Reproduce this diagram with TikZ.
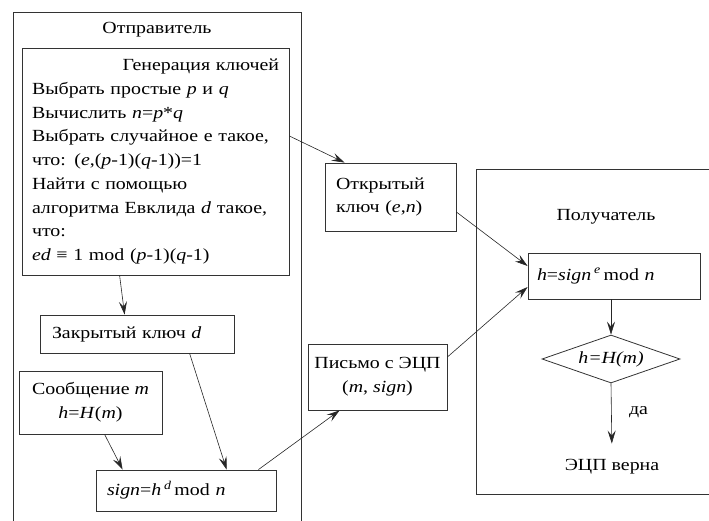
\documentclass[tikz,border=0pt]{standalone}
\usepackage{fontspec}
\setmainfont{Liberation Serif}[FakeStretch=1.17]
\usetikzlibrary{arrows.meta,shapes.geometric}
\begin{document}
\begin{tikzpicture}[x=1pt,y=-1pt,
    font=\fontsize{17}{23.75}\selectfont,
    blk/.style={draw=black!80,line width=0.8pt,inner sep=0pt},
    arr/.style={-{Stealth[length=13pt,width=8pt,inset=5pt]},line width=0.6pt,draw=black!85}]
  \useasboundingbox (0,0) rectangle (709,520);
  \clip (0,0) rectangle (709,520);
  % sender side
  \draw[blk] (13,12) rectangle (301,540);
  \node (sender) at (157,30) {Отправитель};
  \node[blk,minimum width=267,minimum height=227,text width=247,align=left] (keygen) at (155.5,161.5)
    {\hspace{0pt plus 1fill}Генерация ключей\\
     Выбрать простые \textit{p} и \textit{q}\\
     Вычислить \textit{n}=\textit{p}*\textit{q}\\
     Выбрать случайное е такое,\\
     что: (\textit{e},(\textit{p}-1)(\textit{q}-1))=1\\
     Найти с помощью\\
     алгоритма Евклида \textit{d} такое,\\
     что:\\
     \textit{ed} ≡ 1 mod (\textit{p}-1)(\textit{q}-1)};
  \node[blk,minimum width=194,minimum height=38,text width=170,align=left] (closed) at (137,334) {Закрытый ключ \textit{d}};
  \node[blk,minimum width=143,minimum height=63,align=center] (msg) at (90.5,402.5) {Сообщение \textit{m}\\\textit{h}=\textit{H}(\textit{m})};
  \node[blk,minimum width=180,minimum height=41,text width=158,align=left] (sign) at (186,490.5) {\textit{sign}=\textit{h}\,\textsuperscript{\textit{d}}\,mod \textit{n}};
  % channel
  \node[blk,minimum width=131,minimum height=68,text width=109,align=left] (pub) at (390.5,197) {Открытый\\ключ (\textit{e},\textit{n})};
  \node[blk,minimum width=139,minimum height=66,align=center] (letter) at (377.5,377) {Письмо с ЭЦП\\(\textit{m}, \textit{sign})};
  % receiver side
  \draw[blk] (476,169) rectangle (730,494);
  \node (receiver) at (606,217) {Получатель};
  \node[blk,minimum width=172,minimum height=46,text width=154,align=left] (verify) at (614,276) {\textit{h}=\textit{sign}\,\textsuperscript{\textit{e}}\,mod \textit{n}};
  \node[blk,diamond,aspect=2.9,minimum width=138,minimum height=48] (check) at (611,359) {\textit{h=H(m)}};
  \node (ok) at (612,466.5) {ЭЦП верна};
  % arrows
  \draw[arr] ([xshift=98pt]keygen.south west) -- ([xshift=85pt]closed.north west);
  \draw[arr] ([yshift=25.5pt]keygen.east) -- ([xshift=20pt]pub.north west);
  \draw[arr] ([xshift=86pt]msg.south west) -- ([xshift=27pt]sign.north west);
  \draw[arr] ([xshift=150pt]closed.south west) -- ([xshift=131pt]sign.north west);
  \draw[arr] ([xshift=-18pt]sign.north east) -- ([xshift=32pt]letter.south west);
  \draw[arr] ([yshift=-15pt]pub.east) -- ([yshift=10pt]verify.west);
  \draw[arr] ([yshift=20pt]letter.east) -- ([yshift=-11pt]verify.west);
  \draw[arr] (check.north |- verify.south) -- (check.north);
  \draw[arr,shorten >=12pt] (check.south) -- node[pos=0.4,right=14pt] {да} (ok.north);
\end{tikzpicture}
\end{document}
